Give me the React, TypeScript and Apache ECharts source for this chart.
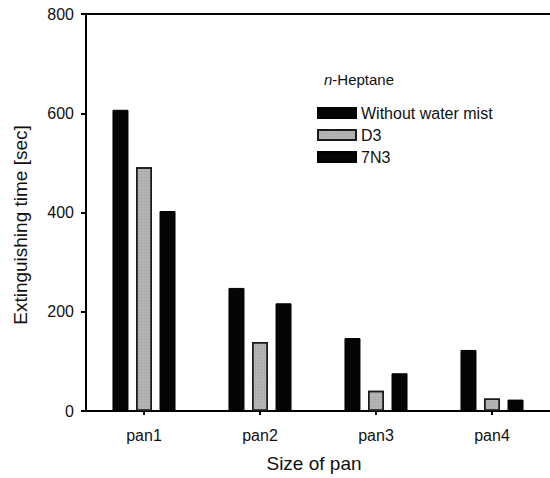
import React, { useEffect, useRef } from "react";
import * as echarts from "echarts";

const categories = ["pan1", "pan2", "pan3", "pan4"];
const withoutWaterMist = [607, 248, 147, 123];
const d3 = [491, 139, 41, 25];
const n7n3 = [403, 217, 76, 23];
const yTicks = { min: 0, max: 800, interval: 200 };
const yTitle = "Extinguishing time [sec]";

const FONT = "'Liberation Sans', Arial, Helvetica, sans-serif";
const INK = "#111";

export default function App() {
  const ref = useRef<HTMLDivElement>(null);

  useEffect(() => {
    if (!ref.current) return;
    const chart = echarts.init(ref.current, undefined, { renderer: "svg" });

    const barBase = {
      type: "bar" as const,
      barWidth: 16,
      barGap: "47%",
      xAxisIndex: 0,
    };

    chart.setOption({
      animation: false,
      backgroundColor: "#ffffff",
      textStyle: { fontFamily: FONT, color: INK },
      grid: { left: 86, top: 14, width: 466, height: 400, containLabel: false },
      graphic: [
        {
          type: "text",
          left: 324,
          top: 72,
          style: {
            text: "{i|n}-Heptane",
            rich: {
              i: { fontStyle: "italic", fontSize: 15, fontFamily: FONT, fill: INK },
            },
            fontSize: 15,
            fontFamily: FONT,
            fill: INK,
          },
        },
        {
          // vertical axis title
          type: "text",
          x: 20,
          y: 225,
          rotation: Math.PI / 2,
          style: {
            text: yTitle,
            fontSize: 19,
            fontFamily: FONT,
            fill: INK,
            align: "center",
            verticalAlign: "middle",
          },
        },
      ],
      legend: {
        orient: "vertical",
        left: 312,
        top: 100,
        icon: "rect",
        itemWidth: 38,
        itemHeight: 10,
        itemGap: 6,
        textStyle: { fontSize: 16, fontFamily: FONT, color: INK },
        data: ["Without water mist", "D3", "7N3"],
      },
      xAxis: [
        {
          type: "category",
          data: categories,
          name: "Size of pan",
          nameLocation: "middle",
          nameGap: 43,
          nameTextStyle: { fontSize: 19, fontFamily: FONT, color: INK, padding: [0, 8, 0, 0] },
          axisLine: { show: true, lineStyle: { color: "#000", width: 2 } },
          axisTick: { show: true, alignWithLabel: true, length: 4, lineStyle: { color: "#000", width: 2 } },
          axisLabel: { fontSize: 16, fontFamily: FONT, color: INK, margin: 16 },
        },
        {
          type: "category",
          data: categories,
          position: "top",
          axisLine: { show: true, lineStyle: { color: "#000", width: 2 } },
          axisTick: { show: false },
          axisLabel: { show: false },
        },
      ],
      yAxis: {
        type: "value",
        min: yTicks.min,
        max: yTicks.max,
        interval: yTicks.interval,
        axisLine: { show: true, lineStyle: { color: "#000", width: 2 } },
        axisTick: { show: true, length: 5, lineStyle: { color: "#000", width: 2 } },
        axisLabel: { fontSize: 16, fontFamily: FONT, color: INK, margin: 12 },
        splitLine: { show: false },
      },
      series: [
        {
          ...barBase,
          name: "Without water mist",
          data: withoutWaterMist,
          itemStyle: { color: "#050505", borderColor: "#000", borderWidth: 1 },
        },
        {
          ...barBase,
          name: "D3",
          data: d3,
          itemStyle: {
            color: "#b3b3b3",
            borderColor: "#1a1a1a",
            borderWidth: 1.5,
            decal: {
              symbol: "rect",
              symbolSize: 0.6,
              dashArrayX: [1, 2],
              dashArrayY: [1, 2],
              rotation: 0,
              color: "rgba(70,70,70,0.55)",
            },
          },
        },
        {
          ...barBase,
          name: "7N3",
          data: n7n3,
          itemStyle: { color: "#050505", borderColor: "#000", borderWidth: 1 },
        },
      ],
    });

    return () => chart.dispose();
  }, []);

  return (
    <div
      ref={ref}
      style={{ position: "fixed", left: 0, top: 0, width: 550, height: 478 }}
    />
  );
}
